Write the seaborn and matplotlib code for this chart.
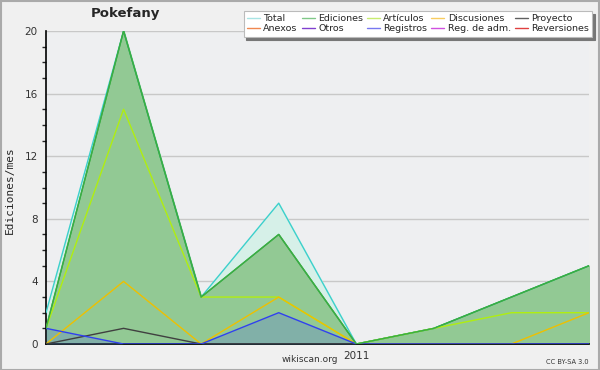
import matplotlib
matplotlib.use("Agg")
import matplotlib.pyplot as plt
from matplotlib.lines import Line2D
from matplotlib.patches import Rectangle
import seaborn as sns
import pandas as pd

# datos (ediciones por mes, sep 2010 - abr 2011)
meses = ["2010-09", "2010-10", "2010-11", "2010-12", "2011-01", "2011-02", "2011-03", "2011-04"]
total = [2, 20, 3, 9, 0, 1, 3, 5]
ediciones = [1, 20, 3, 7, 0, 1, 3, 5]
articulos = [1, 15, 3, 3, 0, 1, 2, 2]
discusiones = [0, 4, 0, 3, 0, 0, 0, 2]
proyecto = [0, 1, 0, 0, 0, 0, 0, 0]
registros = [1, 0, 0, 2, 0, 0, 0, 0]
etiquetas_x = ["", "", "", "", "2011", "", "", ""]

legend_names = ["Total", "Anexos", "Ediciones", "Otros", "Artículos", "Registros",
                "Discusiones", "Reg. de adm.", "Proyecto", "Reversiones"]
legend_colors = ["#a8e4e4", "#f08850", "#80c888", "#8040d0", "#c8ec70", "#7878f0",
                 "#f8cc60", "#d050e0", "#606060", "#e04040"]

df = pd.DataFrame({"mes": range(len(meses)), "Total": total, "Ediciones": ediciones,
                   "Artículos": articulos, "Discusiones": discusiones,
                   "Proyecto": proyecto, "Registros": registros})

sns.set_style("white")
plt.rcParams["font.family"] = ["DejaVu Sans"]

fig = plt.figure(figsize=(6, 3.7), dpi=100, facecolor="#f0f0f0")
ax = fig.add_axes([46 / 600, 26 / 370, 543 / 600, 313 / 370])
ax.set_facecolor("#eeeff1")

x = df["mes"]
ax.fill_between(x, df["Total"], color="#d6f0e8", zorder=1)
ax.fill_between(x, df["Ediciones"], color="#92c994", zorder=2)
ax.fill_between(x, df["Registros"], color="#5a78d8", alpha=0.3, zorder=3, lw=0)

estilos = [("Total", "#3cd0cc"), ("Ediciones", "#3aad44"), ("Artículos", "#b0ee10"),
           ("Discusiones", "#eec000"), ("Proyecto", "#404040"), ("Registros", "#3040f0")]
for col, c in estilos:
    sns.lineplot(data=df, x="mes", y=col, color=c, lw=1.0, ax=ax, zorder=5)
# la linea de Ediciones encima de Total
sns.lineplot(data=df, x="mes", y="Ediciones", color="#3aad44", lw=1.0, ax=ax, zorder=6)

ax.set_xlim(0, len(meses) - 1)
ax.set_ylim(0, 20)
ax.set_xticks(range(len(meses)))
ax.set_xticklabels(etiquetas_x, fontsize=7.5, color="#333333")
ax.set_yticks([0, 4, 8, 12, 16, 20])
ax.set_yticks(range(21), minor=True)
ax.tick_params(axis="y", which="major", length=5, width=1, labelsize=7.5, colors="black", pad=1)
ax.tick_params(axis="y", which="minor", length=3, width=1, left=True)
ax.tick_params(axis="x", length=4, width=1, pad=1)
for lbl in ax.get_yticklabels():
    lbl.set_color("#333333")
ax.grid(axis="y", which="major", color="#c8c8c8", lw=1, zorder=0)
ax.set_axisbelow(True)
for s in ["top", "right"]:
    ax.spines[s].set_visible(False)
for s in ["left", "bottom"]:
    ax.spines[s].set_color("black")
    ax.spines[s].set_linewidth(1.2)
ax.set_xlabel("")
ax.set_ylabel("")

fig.text(10 / 600, 1 - 190 / 370, "Ediciones/mes", rotation=90, va="center", ha="center",
         fontsize=8, family="DejaVu Sans Mono")
fig.text(125 / 600, 1 - 13 / 370, "Pokefany", ha="center", va="center",
         fontsize=9.5, fontweight="bold")
fig.text(310 / 600, 1 - 360 / 370, "wikiscan.org", ha="center", va="center",
         fontsize=6.5, color="#333333")
fig.text(589 / 600, 1 - 362 / 370, "CC BY-SA 3.0", ha="right", va="center",
         fontsize=4.8, color="#333333")

handles = [Line2D([], [], color=c, lw=1.0) for c in legend_colors]
leg = fig.legend(handles, legend_names, ncol=5, loc="upper right",
                 bbox_to_anchor=(597 / 600, 1 - 6 / 370), fontsize=6.8,
                 frameon=True, fancybox=False, shadow={"color": "#777777", "alpha": 1},
                 edgecolor="#bbbbbb", handlelength=1.4, handletextpad=0.35,
                 columnspacing=0.4, labelspacing=0.15, borderpad=0.35)
leg.get_frame().set_linewidth(0.8)

fig.patches.append(Rectangle((0.001, 0.001), 0.997, 0.996, transform=fig.transFigure,
                             fill=False, edgecolor="#aaaaaa", lw=1.5))

fig.savefig("out.png", dpi=100, facecolor=fig.get_facecolor())
